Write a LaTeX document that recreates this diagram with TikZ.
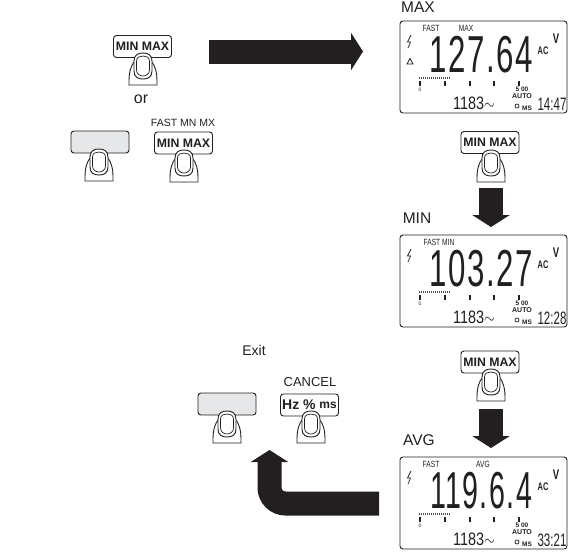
\documentclass[tikz,border=0pt]{standalone}
\usepackage{fontspec}
\setmainfont{Liberation Sans}
\usepackage{tikz}
\usetikzlibrary{arrows.meta,positioning,calc}
\definecolor{inkblack}{HTML}{231F20}
\definecolor{keygrey}{HTML}{E6E7E8}
\tikzset{
	pics/finger/.style={code={
		\draw[inkblack,line width=.9pt,fill=white] (-14,32) -- (14,32) -- (14,28) .. controls (14,19) and (12,13) .. (9,9) -- (-9,9) .. controls (-12,13) and (-14,19) .. (-14,28) -- cycle;
		\draw[inkblack,line width=.9pt,fill=white] (-9,8) .. controls (-9,2) and (-5,0) .. (0,0) .. controls (5,0) and (9,2) .. (9,8) -- (9,18) .. controls (9,24) and (5,26) .. (0,26) .. controls (-5,26) and (-9,24) .. (-9,18) -- cycle;
		\draw[inkblack,line width=.7pt] (-6.5,8) .. controls (-6.5,4) and (-3,3) .. (0,3) .. controls (3,3) and (6.5,4) .. (6.5,8) -- (6.5,17) .. controls (6.5,21) and (3,23) .. (0,23) .. controls (-3,23) and (-6.5,21) .. (-6.5,17) -- cycle;
	}},
	key/.style={draw=inkblack,line width=.9pt,rounded corners=3pt,minimum width=58pt,minimum height=22pt,inner sep=0pt,fill=white,text=inkblack,font=\fontsize{12.3}{12.3}\selectfont\bfseries},
	greykey/.style={key,fill=keygrey},
	lbl/.style={text=inkblack,inner sep=0pt,font=\fontsize{#1}{#1}\selectfont},
	lcdtop/.style={text=inkblack,inner sep=0pt,font=\fontsize{9}{9}\selectfont,xscale=.74,transform shape},
	bigdigits/.style={text=inkblack,inner sep=0pt,font=\fontsize{52}{52}\selectfont\addfontfeature{LetterSpace=5},xscale=#1,transform shape},
	smalldigits/.style={text=inkblack,inner sep=0pt,font=\fontsize{18}{18}\selectfont,xscale=#1,transform shape},
	bold/.style={text=inkblack,inner sep=0pt,font=\fontsize{#1}{#1}\selectfont\bfseries},
	narrowbold/.style={bold=#1,xscale=.68,transform shape},
	bigarrow/.style={inkblack,line width=24pt,-{Triangle[length=12pt,width=37pt]}},
}
\newcommand{\lcdpanel}[5]{
	\begin{scope}[shift={(400,#2)}]
		\node[draw=inkblack,line width=.9pt,rounded corners=3pt,minimum width=167pt,minimum height=92pt,inner sep=0pt] (#1) at (83.5,46) {};
		\node[bigdigits=#5] (#1num) at (81,34) {#3};
		\node[narrowbold=11] (#1ac) at (143,30) {AC};
		\node[narrowbold=14] (#1v) at (156,18) {V};
		\draw[inkblack,line width=.7pt] (11,14) -- (7.5,21) -- (10.5,21) -- (8,27);
		\draw[inkblack!80,line width=2.5pt,dash pattern=on 1pt off 1pt] (19,57) -- (50,57);
		\foreach \tickx in {20,45,70,94,119}
			\draw[inkblack,line width=1.5pt] (\tickx,60) -- (\tickx,65);
		\node[lbl=5] (#1zero) at (20,69) {0};
		\node[bold=6.5] (#1scale) at (122,68) {5 00};
		\node[bold=7] (#1auto) at (122,75) {AUTO};
		\draw[inkblack,line width=.7pt] (117,85) circle (2);
		\node[bold=6.5] (#1ms) at (127,87) {MS};
		\node[smalldigits=.8] (#1cnt) at (74,82) {1183$\sim$};
		\node[smalldigits=.64] (#1time) at (152,83) {#4};
	\end{scope}
}
\begin{document}
\begin{tikzpicture}[>=latex,x=1pt,y=-1pt]
	\useasboundingbox (0,0) rectangle (568,555);
	\node[key] (minmaxa) at (142.5,46.5) {MIN MAX};
	\pic at (143,53) {finger};
	\node[lbl=16] (ortext) at (141,99) {or};
	\node[lbl=10.5] (fastmn) at (183,123) {FAST MN MX};
	\node[greykey] (greya) at (100,142) {};
	\pic at (99,149) {finger};
	\node[key] (minmaxb) at (183.5,143) {MIN MAX};
	\pic at (184,150) {finger};
	\coordinate (arrowa) at (209,51.5);
	\coordinate (arrowb) at (363,51.5);
	\draw[bigarrow] (arrowa) -- (arrowb);
	\node[lbl=15.5] (maxtext) at (418,7) {MAX};
	\lcdpanel{lcdmax}{21}{127.64}{14:47}{.6}
	\node[lcdtop] (maxfast) at (431,28) {FAST};
	\node[lcdtop] (maxmax) at (466,28) {MAX};
	\draw[inkblack,line width=.8pt] (407,64) -- (413,64) -- (410,58.5) -- cycle;
	\node[key] (minmaxc) at (490,142.5) {MIN MAX};
	\pic at (491,150) {finger};
	\coordinate (arrowc) at (491,188);
	\coordinate (arrowd) at (491,227);
	\draw[bigarrow] (arrowc) -- (arrowd);
	\node[lbl=15.5] (mintext) at (417,218) {MIN};
	\lcdpanel{lcdmin}{235}{103.27}{12:28}{.6}
	\node[lcdtop] (minfast) at (439,242) {FAST MIN};
	\node[key] (minmaxd) at (490,362) {MIN MAX};
	\pic at (491,369) {finger};
	\coordinate (arrowe) at (491,409);
	\coordinate (arrowf) at (491,448);
	\draw[bigarrow] (arrowe) -- (arrowf);
	\node[lbl=15.5] (avgtext) at (419,440) {AVG};
	\lcdpanel{lcdavg}{457}{119.6.4}{33:21}{.55}
	\node[lcdtop] (avgfast) at (431,464) {FAST};
	\node[lcdtop] (avgavg) at (483,464) {AVG};
	\node[lbl=14] (exittext) at (254,350) {Exit};
	\node[lbl=13] (canceltext) at (310,382) {CANCEL};
	\node[greykey] (greyb) at (227,404) {};
	\pic at (227,411) {finger};
	\node[key] (hzkey) at (309.5,405) {\fontsize{14}{14}\selectfont Hz \% \raisebox{1.5pt}{\fontsize{12}{12}\selectfont ms}};
	\pic at (311,411) {finger};
	\coordinate (arrowg) at (379,503.5);
	\coordinate (arrowh) at (269.5,450);
	\draw[bigarrow,rounded corners=16pt] (arrowg) -- (269.5,503.5) -- (arrowh);
\end{tikzpicture}
\end{document}
